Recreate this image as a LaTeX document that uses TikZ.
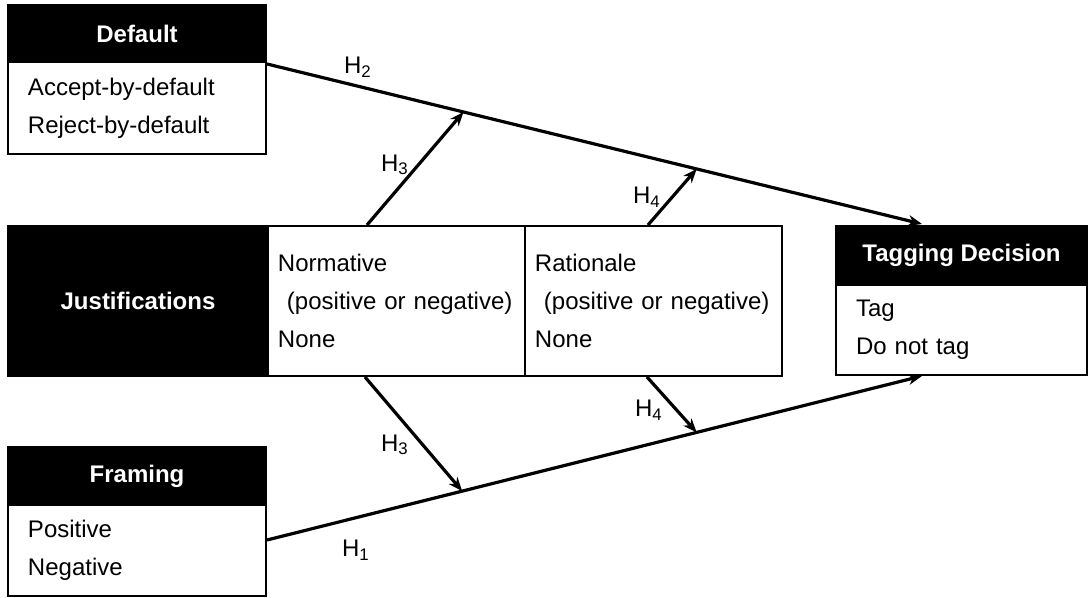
\documentclass[tikz,border=0pt]{standalone}
\usepackage{fontspec}
\setmainfont{Liberation Sans}
\usetikzlibrary{arrows.meta,calc}
\newcommand\diagfont{\fontsize{12bp}{19bp}\selectfont}
\tikzset{
  headbox/.style={draw=black,fill=black,text=white,font=\diagfont\bfseries,inner sep=0pt,line width=1bp},
  bodybox/.style={draw=black,fill=white,align=left,inner ysep=0pt,line width=1bp},
  hypline/.style={line width=1.6bp,-{Stealth[length=7bp,width=5.5bp]}},
}

\begin{document}
\begin{tikzpicture}[x=0.5bp,y=0.5bp,every node/.style={font=\diagfont}]
\useasboundingbox (0,0) rectangle (1089,598);
% left factors
\node[headbox,minimum width=129bp,minimum height=28.5bp] (Dhead) at (137,564.5) {Default};
\node[bodybox,text width=109bp,inner xsep=10bp,minimum height=46bp] (Dbody) at (137,490) {Accept-by-default\\Reject-by-default};
\node[headbox,minimum width=130bp,minimum height=75bp] (Jhead) at (138,297) {Justifications};
\node[bodybox,text width=118.5bp,inner xsep=5bp,minimum height=75bp] (Nbox) at (396.5,297) {Normative\\\hspace*{4.5bp}(positive or negative)\\None};
\node[bodybox,text width=118.5bp,inner xsep=5bp,minimum height=75bp] (Rbox) at (653.5,297) {Rationale\\\hspace*{4.5bp}(positive or negative)\\None};
\node[headbox,minimum width=129bp,minimum height=29bp] (Fhead) at (137,122) {Framing};
\node[bodybox,text width=109bp,inner xsep=10bp,minimum height=45.5bp] (Fbody) at (137,47.5) {Positive\\Negative};
% outcome
\node[headbox,minimum width=125.5bp,minimum height=29.5bp] (Thead) at (961.5,342.5) {Tagging Decision};
\node[bodybox,text width=105.5bp,inner xsep=10bp,minimum height=45bp] (Tbody) at (961.5,268) {Tag\\Do not tag};
% hypotheses
\coordinate (D2) at ($(Dbody.north east)+(0,-3)$);
\coordinate (T2) at (922,374);
\coordinate (F1) at ($(Fbody.east)+(0,10.5)$);
\coordinate (T1) at (922,222);
\draw[hypline] (D2) -- (T2);
\draw[hypline] (F1) -- (T1);
\draw[hypline] ($(Nbox.north west)+(100,0)$) -- ($(D2)!0.3!(T2)$);
\draw[hypline] ($(Rbox.north west)+(124,0)$) -- ($(D2)!0.656!(T2)$);
\draw[hypline] ($(Nbox.south west)+(98,0)$) -- ($(F1)!0.298!(T1)$);
\draw[hypline] ($(Rbox.south west)+(123,0)$) -- ($(F1)!0.656!(T1)$);
\node (lH2) at (358,531) {H\textsubscript{2}};
\node (lH3a) at (395,433) {H\textsubscript{3}};
\node (lH4a) at (647,401) {H\textsubscript{4}};
\node (lH3b) at (395,153) {H\textsubscript{3}};
\node (lH4b) at (649,188) {H\textsubscript{4}};
\node (lH1) at (356,48) {H\textsubscript{1}};
\end{tikzpicture}
\end{document}
